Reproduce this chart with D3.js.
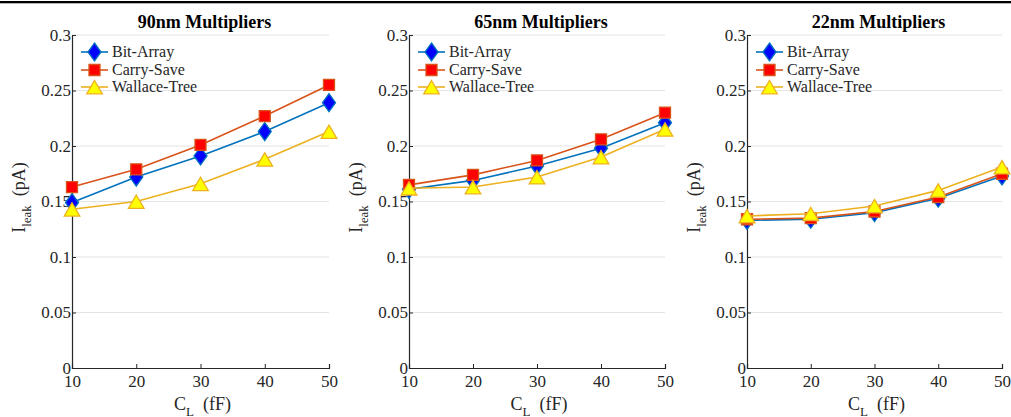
<!DOCTYPE html>
<html><head><meta charset="utf-8">
<script src="https://cdn.jsdelivr.net/npm/d3@7"></script>
<style>body{margin:0;background:#fff}svg{display:block}svg text{font-family:"Times New Roman",Times,"Liberation Serif","Tinos","DejaVu Serif",serif !important}</style>
</head><body>
<svg id="c" width="1011" height="417"></svg>
<script>
const xValues = [10, 20, 30, 40, 50];
const yTicks = [0, 0.05, 0.1, 0.15, 0.2, 0.25, 0.3];
const yTickLabels = ["0", "0.05", "0.1", "0.15", "0.2", "0.25", "0.3"];
const seriesNames = ["Bit-Array", "Carry-Save", "Wallace-Tree"];
const panelTitles = ["90nm Multipliers", "65nm Multipliers", "22nm Multipliers"];

const bitArray90 = [0.149, 0.172, 0.191, 0.213, 0.239];
const carrySave90 = [0.163, 0.179, 0.201, 0.227, 0.255];
const wallace90 = [0.143, 0.150, 0.166, 0.188, 0.213];

const bitArray65 = [0.161, 0.169, 0.182, 0.198, 0.221];
const carrySave65 = [0.165, 0.174, 0.187, 0.206, 0.230];
const wallace65 = [0.162, 0.163, 0.172, 0.190, 0.215];

const bitArray22 = [0.133, 0.134, 0.140, 0.153, 0.173];
const carrySave22 = [0.134, 0.135, 0.141, 0.154, 0.175];
const wallace22 = [0.137, 0.139, 0.146, 0.160, 0.181];

const panelData = [
  [bitArray90, carrySave90, wallace90],
  [bitArray65, carrySave65, wallace65],
  [bitArray22, carrySave22, wallace22]
];

const lineColors = ["#0072BD", "#D95319", "#EDB120"];
const fillColors = ["#0000FF", "#FF0000", "#FFFF00"];

(function () {
const diamond = {draw(ctx) { ctx.moveTo(0, -9); ctx.lineTo(6.5, 0); ctx.lineTo(0, 9); ctx.lineTo(-6.5, 0); ctx.closePath(); }};
const square = {draw(ctx) { ctx.moveTo(-5.5, -5.5); ctx.lineTo(5.5, -5.5); ctx.lineTo(5.5, 5.5); ctx.lineTo(-5.5, 5.5); ctx.closePath(); }};
const triangle = {draw(ctx) { ctx.moveTo(0, -6.5); ctx.lineTo(7.8, 6.8); ctx.lineTo(-7.8, 6.8); ctx.closePath(); }};
const shapes = [diamond, square, triangle];

const svg = d3.select("#c");
const axisColor = "#262626";

svg.append("rect").attr("x", 0).attr("y", 1).attr("width", 1011).attr("height", 2.3).attr("fill", "#000");

const panels = [
  {left: 72, right: 329},
  {left: 409, right: 665},
  {left: 747, right: 1002}
];
const plotTop = 35, plotBottom = 368;

panels.forEach((p, pi) => {
  const x = d3.scaleLinear().domain([10, 50]).range([p.left, p.right]);
  const y = d3.scaleLinear().domain([0, 0.3]).range([plotBottom, plotTop]);
  const g = svg.append("g");

  g.selectAll("line.grid").data(yTicks.filter(t => t > 0)).enter().append("line")
    .attr("x1", p.left).attr("x2", p.right)
    .attr("y1", d => y(d)).attr("y2", d => y(d))
    .attr("stroke", "#e3e3e3").attr("stroke-width", 1);

  const yAxis = d3.axisLeft(y).tickValues(yTicks).tickSize(-4).tickPadding(1)
    .tickFormat((d, i) => yTickLabels[i]);
  const ya = g.append("g").attr("transform", `translate(${p.left},0)`).call(yAxis);
  ya.attr("font-family", null);
  ya.select(".domain").attr("stroke", axisColor).attr("stroke-width", 1.2);
  ya.selectAll(".tick line").attr("stroke", axisColor);
  ya.selectAll(".tick text").attr("font-size", 17).attr("fill", axisColor);

  const xAxis = d3.axisBottom(x).tickValues(xValues).tickSize(-4).tickPadding(7).tickFormat(d3.format("d"));
  const xa = g.append("g").attr("transform", `translate(0,${plotBottom})`).call(xAxis);
  xa.attr("font-family", null);
  xa.select(".domain").attr("stroke", axisColor).attr("stroke-width", 1.2);
  xa.selectAll(".tick line").attr("stroke", axisColor);
  xa.selectAll(".tick text").attr("font-size", 17).attr("fill", axisColor);

  g.append("text").attr("x", (p.left + p.right) / 2 + 4).attr("y", 28)
    .attr("text-anchor", "middle").attr("font-weight", "bold")
    .attr("font-size", 18).attr("fill", "#000").text(panelTitles[pi]);

  const xl = g.append("text").attr("x", (p.left + p.right) / 2 + 2).attr("y", 410)
    .attr("text-anchor", "middle").attr("font-size", 18).attr("fill", axisColor);
  xl.append("tspan").text("C");
  xl.append("tspan").attr("font-size", 13).attr("dy", 6).text("L");
  xl.append("tspan").attr("dy", -6).text("\u2002(fF)");

  const cy = (plotTop + plotBottom) / 2;
  const yl = g.append("text").attr("transform", `translate(${p.left - 47},${cy - 4}) rotate(-90)`)
    .attr("text-anchor", "middle").attr("font-size", 18).attr("fill", axisColor);
  yl.append("tspan").text("I");
  yl.append("tspan").attr("font-size", 13).attr("dy", 6).text("leak");
  yl.append("tspan").attr("dy", -6).text("\u2002(pA)");

  const line = d3.line().x((d, i) => x(xValues[i])).y(d => y(d));
  panelData[pi].forEach((vals, si) => {
    g.append("path").datum(vals).attr("d", line).attr("fill", "none")
      .attr("stroke", lineColors[si]).attr("stroke-width", 1.6);
    g.selectAll(null).data(vals).enter().append("path")
      .attr("d", d3.symbol().type(shapes[si]))
      .attr("transform", (d, i) => `translate(${x(xValues[i])},${y(d)})`)
      .attr("fill", fillColors[si]).attr("stroke", lineColors[si]).attr("stroke-width", 1.3);
  });

  const legY = [52, 70, 87];
  seriesNames.forEach((name, si) => {
    const lx = p.left + 9;
    g.append("line").attr("x1", lx).attr("x2", lx + 27).attr("y1", legY[si]).attr("y2", legY[si])
      .attr("stroke", lineColors[si]).attr("stroke-width", 1.6);
    g.append("path").attr("d", d3.symbol().type(shapes[si]))
      .attr("transform", `translate(${lx + 13.5},${legY[si]})`)
      .attr("fill", fillColors[si]).attr("stroke", lineColors[si]).attr("stroke-width", 1.3);
    g.append("text").attr("x", lx + 31).attr("y", legY[si] + 5)
      .attr("font-size", 16).attr("fill", axisColor).text(name);
  });
});
})();
</script>
</body></html>
